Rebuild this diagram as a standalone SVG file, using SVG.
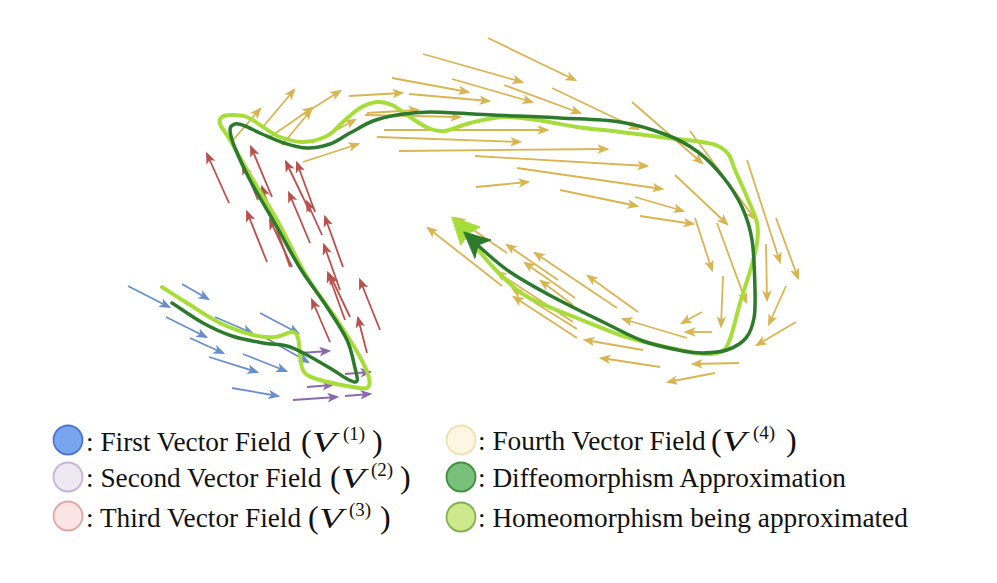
<svg xmlns="http://www.w3.org/2000/svg" width="997" height="583" viewBox="0 0 997 583">
<style>
.v{fill:none;stroke-width:1.8;stroke-linecap:butt}
.b{stroke:#6a8fc8;marker-end:url(#mb)}
.p{stroke:#8c68ac;marker-end:url(#mp)}
.r{stroke:#b8504c;marker-end:url(#mr)}
.g{stroke:#d8b452;marker-end:url(#mg)}
.t{font-family:"Liberation Serif","Times New Roman",serif;font-size:27.3px;fill:#111}
.par{font-family:"Liberation Serif","Times New Roman",serif;font-size:32px;fill:#111}
.vi{font-family:"Liberation Serif","Times New Roman",serif;font-size:29px;font-style:italic;fill:#111}
.sup{font-family:"Liberation Serif","Times New Roman",serif;font-size:19px;fill:#111}
.lc{stroke-width:1.8}
</style>
<defs>
<marker id="mb" viewBox="0 0 10 8" refX="8" refY="4" markerWidth="12" markerHeight="10" markerUnits="userSpaceOnUse" orient="auto"><path d="M0,0 L10,4 L0,8 L2.5,4z" fill="#6a8fc8"/></marker>
<marker id="mp" viewBox="0 0 10 8" refX="8" refY="4" markerWidth="12" markerHeight="10" markerUnits="userSpaceOnUse" orient="auto"><path d="M0,0 L10,4 L0,8 L2.5,4z" fill="#8c68ac"/></marker>
<marker id="mr" viewBox="0 0 10 8" refX="8" refY="4" markerWidth="12" markerHeight="10" markerUnits="userSpaceOnUse" orient="auto"><path d="M0,0 L10,4 L0,8 L2.5,4z" fill="#b8504c"/></marker>
<marker id="mg" viewBox="0 0 10 8" refX="8" refY="4" markerWidth="12" markerHeight="10" markerUnits="userSpaceOnUse" orient="auto"><path d="M0,0 L10,4 L0,8 L2.5,4z" fill="#d8b452"/></marker>
</defs>
<rect width="997" height="583" fill="#fff"/>

<g id="field4" class="v">
<path class="g" d="M233,140L260,109"/>
<path class="g" d="M262,128L294,90"/>
<path class="g" d="M270,137L312,108"/>
<path class="g" d="M282,145L311,110"/>
<path class="g" d="M307,112L340,91"/>
<path class="g" d="M312,143L355,120"/>
<path class="g" d="M303,162L358,144"/>
<path class="g" d="M349,96L402,93"/>
<path class="g" d="M392,78L468,92"/>
<path class="g" d="M423,54L522,82"/>
<path class="g" d="M488,38L575,80"/>
<path class="g" d="M409,94L489,101"/>
<path class="g" d="M452,79L532,102"/>
<path class="g" d="M504,85L580,113"/>
<path class="g" d="M552,88L638,129"/>
<path class="g" d="M367,113L418,110"/>
<path class="g" d="M365,115L460,117"/>
<path class="g" d="M384,130L547,130"/>
<path class="g" d="M377,137L520,142"/>
<path class="g" d="M399,151L607,149"/>
<path class="g" d="M475,156L647,166"/>
<path class="g" d="M517,168L662,189"/>
<path class="g" d="M476,187L528,182"/>
<path class="g" d="M560,190L637,206"/>
<path class="g" d="M635,197L683,211"/>
<path class="g" d="M640,216L693,224"/>
<path class="g" d="M675,175L727,224"/>
<path class="g" d="M632,102L702,163"/>
<path class="g" d="M690,131L755,219"/>
<path class="g" d="M695,218L712,270"/>
<path class="g" d="M717,223L746,302"/>
<path class="g" d="M747,160L780,262"/>
<path class="g" d="M776,218L798,278"/>
<path class="g" d="M766,244L767,300"/>
<path class="g" d="M723,276L721,326"/>
<path class="g" d="M786,286L769,324"/>
<path class="g" d="M796,322L757,345"/>
<path class="g" d="M702,312L682,323"/>
<path class="g" d="M712,332L686,332"/>
<path class="g" d="M739,363L693,364"/>
<path class="g" d="M715,373L668,382"/>
<path class="g" d="M687,338L623,319"/>
<path class="g" d="M660,367L601,358"/>
<path class="g" d="M643,350L585,340"/>
<path class="g" d="M638,312L588,276"/>
<path class="g" d="M617,308L535,253"/>
<path class="g" d="M575,298L525,263"/>
<path class="g" d="M558,280L507,245"/>
<path class="g" d="M573,305L541,281"/>
<path class="g" d="M573,322L497,272"/>
<path class="g" d="M577,329L513,289"/>
<path class="g" d="M577,338L514,297"/>
<path class="g" d="M507,253L456,218"/>
<path class="g" d="M502,286L428,228"/>
</g>

<g id="field3" class="v">
<path class="r" d="M229,203L207,154"/>
<path class="r" d="M272,197L251,147"/>
<path class="r" d="M258,200L243,165"/>
<path class="r" d="M310,212L286,162"/>
<path class="r" d="M315,212L297,163"/>
<path class="r" d="M290,267L262,187"/>
<path class="r" d="M310,243L289,193"/>
<path class="r" d="M322,235L307,202"/>
<path class="r" d="M267,262L247,212"/>
<path class="r" d="M292,267L270,220"/>
<path class="r" d="M343,267L325,217"/>
<path class="r" d="M340,290L324,245"/>
<path class="r" d="M345,320L328,273"/>
<path class="r" d="M330,342L312,300"/>
<path class="r" d="M350,317L330,275"/>
<path class="r" d="M380,330L360,280"/>
<path class="r" d="M367,353L358,318"/>
</g>

<g id="field2" class="v">
<path class="p" d="M300,353L329,351"/>
<path class="p" d="M307,387L332,385"/>
<path class="p" d="M293,400L337,397"/>
<path class="p" d="M345,396L370,394"/>
<path class="p" d="M345,374L370,372"/>
</g>

<g id="field1" class="v">
<path class="b" d="M128,286L169,307"/>
<path class="b" d="M182,284L208,299"/>
<path class="b" d="M166,317L206,337"/>
<path class="b" d="M190,338L223,353"/>
<path class="b" d="M209,357L257,372"/>
<path class="b" d="M215,317L252,333"/>
<path class="b" d="M260,313L298,333"/>
<path class="b" d="M243,354L286,371"/>
<path class="b" d="M264,337L308,362"/>
<path class="b" d="M232,388L278,396"/>
</g>

<g id="curves" fill="none" stroke-linecap="round" stroke-linejoin="round">
<g id="homeomorphism">
<path stroke="#a6dd3a" stroke-width="4" d="M162,287 C166.2,289.7 177.3,297 187,303 S209,317.7 220,323 S243.8,332.7 253,335 S268.5,337.5 275,337 S288.2,331.8 292,332 S296.7,334.2 298,338 S299,349.3 300,355 S300.7,367.8 304,372 S311.8,377.5 320,380 S345.2,385.7 353,387 S364.3,389.5 367,388 S370.2,383.2 369,378 S365.3,366.7 360,357 S345.8,333.3 337,320 S317,293.7 307,277 S286.5,237 277,220 S257.8,188.3 250,175 S235,148.5 230,140 S221.3,127.8 220,124 S220,118.5 222,117 S227.8,115 232,115 S241.8,115 247,117 S257.5,123.7 263,127 S273.3,134.5 280,137 S295.2,142.2 303,142 S320.3,139.3 327,136 S337.5,126.7 343,122 S354.3,111.3 360,108 S371.7,102.5 377,102 S386.5,102.5 392,105 S404,113.2 410,117 S422.2,125.7 428,128 S438,131.8 445,131 S460.3,125.3 470,123 S491.8,117.5 503,117 S524.7,118.3 537,120 S563.2,125 577,127 S606.2,130.3 620,132 S646.3,135.3 660,137 S692.3,140.5 702,142 S713.5,143.8 718,146 S726.2,151 729,155 S732,163 735,170 S743.3,188.2 747,197 S755.3,215.3 757,223 S758,235.5 757,243 S753.8,258 751,268 S743.3,291.7 740,303 S733.7,328.2 731,336 S727.5,347 724,350 S715.7,353.7 710,354 S698.8,353.5 690,352 S668.7,347.8 657,345 S633.3,339.5 620,335 S589.2,322.8 577,318 S556.5,310.3 547,306 S529,298.5 520,292 S501.3,275.7 493,267 S475.2,245.8 470,240 S463.5,233.5 462,232"/>
<path fill="#a6dd3a" stroke="#a6dd3a" stroke-width="1" d="M452,217 L480,227 L468,234 L461,245 Z"/>
</g>
<g id="diffeomorphism">
<path stroke="#2d7a2d" stroke-width="3.5" d="M172,303 C177,306 193,317.5 203,323 S222,332.7 232,336 S253.8,341.3 263,343 S279.7,344 287,346 S299.3,351 307,355 S326,365.8 333,370 S345,378.2 349,380 S356,383 357,381 S356.7,374.8 355,368 S351.7,350.2 347,340 S334.8,319 327,307 S308.3,281.3 300,268 S285.3,241.7 277,227 S257,193.2 250,180 S238.3,156.3 235,148 S230,134 230,130 S232.5,124.7 235,124 S240.5,124.3 245,126 S255.5,131.2 262,134 S276.5,140.7 284,143 S299.3,147.8 307,148 S322.8,146.5 330,144 S342.8,136.8 350,133 S365.2,124 373,121 S387.5,116.5 397,115 S414,112 430,112 S471.3,114 493,115 S538.8,116.8 560,118 S602.2,119.2 620,122 S654,130 667,135 S688.7,145 698,152 S715.7,167.8 723,177 S737.2,196.5 742,207 S749.8,226.2 752,240 S754.7,277 755,290 S755.5,310 754,318 S750.5,332.7 746,338 S734.2,347.5 727,350 S710.3,352.8 703,353 S693,353 683,351 S656.3,345.8 643,341 S618,329.3 603,322 S568.5,305.3 553,297 S521.7,279.8 510,272 S490,256 483,250 S470.5,238.3 470,238"/>
<path fill="#2d7a2d" stroke="#2d7a2d" stroke-width="1" d="M464,232 L491,240 L478,245 L475,258 Z"/>
</g>
</g>

<g id="legend">
<g id="leg1">
<circle cx="68" cy="440" r="14.5" fill="#7ba4ef" stroke="#4a77d0" class="lc"/>
<text class="t" x="86" y="451">: First Vector Field</text>
<text class="par" x="301" y="452">(</text>
<text class="vi" x="312" y="452" textLength="24" lengthAdjust="spacingAndGlyphs">V</text>
<text class="sup" x="343" y="440">(1)</text>
<text class="par" x="372" y="452">)</text>
</g>
<g id="leg2">
<circle cx="68" cy="477" r="14.5" fill="#eee8f3" stroke="#c6b2d8" class="lc"/>
<text class="t" x="86" y="487">: Second Vector Field</text>
<text class="par" x="330" y="488">(</text>
<text class="vi" x="341" y="488" textLength="24" lengthAdjust="spacingAndGlyphs">V</text>
<text class="sup" x="371" y="476">(2)</text>
<text class="par" x="400" y="488">)</text>
</g>
<g id="leg3">
<circle cx="68" cy="516" r="14.5" fill="#fde4e4" stroke="#e0a6a6" class="lc"/>
<text class="t" x="86" y="527">: Third Vector Field</text>
<text class="par" x="308" y="528">(</text>
<text class="vi" x="319" y="528" textLength="24" lengthAdjust="spacingAndGlyphs">V</text>
<text class="sup" x="349" y="516">(3)</text>
<text class="par" x="380" y="528">)</text>
</g>
<g id="leg4">
<circle cx="461" cy="440" r="14.5" fill="#fdf6e2" stroke="#f0e0b2" class="lc"/>
<text class="t" x="478" y="450">: Fourth Vector Field</text>
<text class="par" x="711" y="451">(</text>
<text class="vi" x="722" y="451" textLength="24" lengthAdjust="spacingAndGlyphs">V</text>
<text class="sup" x="753" y="439">(4)</text>
<text class="par" x="786" y="451">)</text>
</g>
<g id="leg5">
<circle cx="461" cy="477" r="14.5" fill="#79c07b" stroke="#3f8f3f" class="lc"/>
<text class="t" x="478" y="487">: Diffeomorphism Approximation</text>
</g>
<g id="leg6">
<circle cx="461" cy="517" r="14.5" fill="#cee98c" stroke="#7fb04f" class="lc"/>
<text class="t" x="478" y="527">: Homeomorphism being approximated</text>
</g>
</g>
</svg>
